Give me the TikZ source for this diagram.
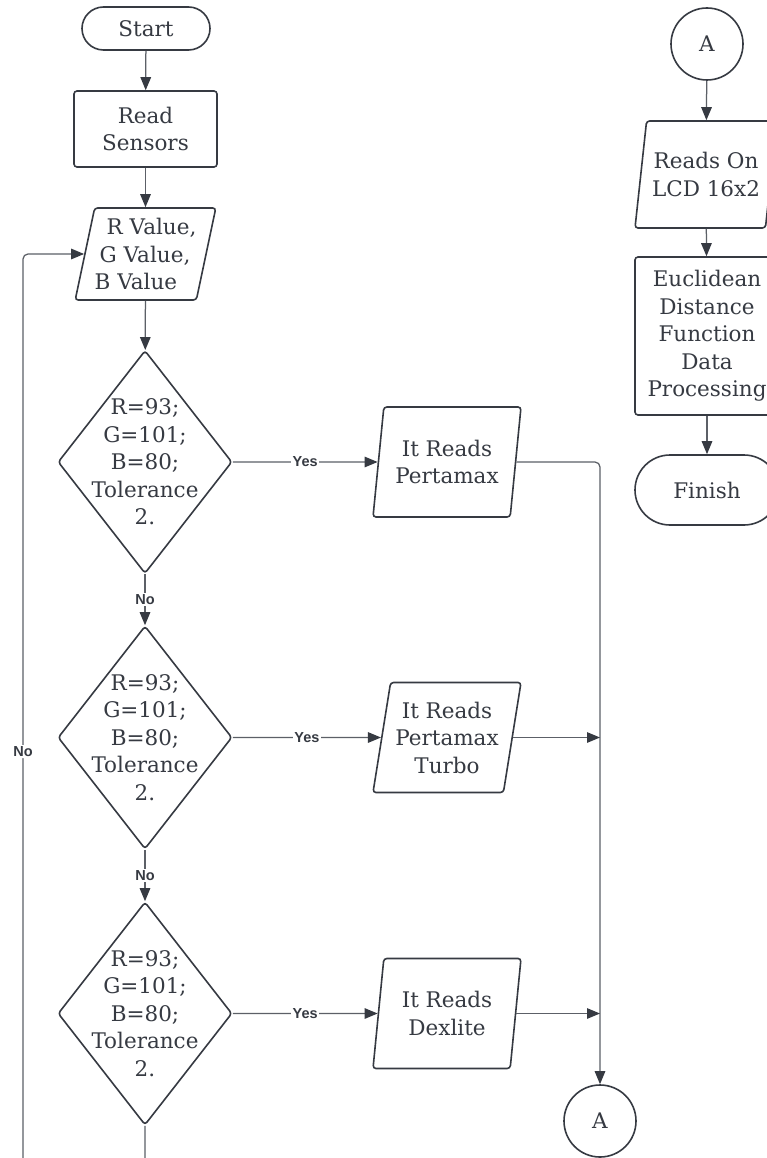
\documentclass[tikz,border=0pt]{standalone}
\usepackage{fontspec}
\setmainfont{DejaVu Serif}
\newfontfamily\labfont{Liberation Sans}
\usetikzlibrary{shapes.geometric,shapes.misc,arrows.meta}
\definecolor{ink}{HTML}{363A42}
\definecolor{wire}{HTML}{5C6067}
\begin{document}
\begin{tikzpicture}[x=1pt,y=-1pt,
  every node/.style={text=ink, font=\fontsize{21.5}{27.5}\selectfont},
  shapebox/.style={draw=ink, line width=1.6pt, fill=white},
  term/.style={shapebox, rounded rectangle, inner sep=0pt},
  proc/.style={shapebox, rectangle, rounded corners=3pt, inner sep=0pt, align=center},
  io/.style={shapebox, trapezium, trapezium stretches body, rounded corners=3pt, inner sep=0pt, align=center},
  par/.style={io, trapezium left angle=76.2, trapezium right angle=103.8, minimum width=148pt, minimum height=110pt},
  dec/.style={shapebox, diamond, rounded corners=3pt, inner sep=0pt, minimum width=174pt, minimum height=223pt},
  dtext/.style={align=center},
  connector/.style={shapebox, circle, minimum size=72pt, inner sep=0pt},
  conn/.style={draw=wire, line width=1.25pt, -{Triangle[length=13pt,width=10.5pt,color=ink]}},
  lab/.style={font=\labfont\bfseries\fontsize{14.5}{16}\selectfont, fill=white, inner sep=1.5pt, text=ink}
]
\useasboundingbox (0,0) rectangle (767,1158);
\fill[white] (0,0) rectangle (767,1158);
\clip (0,0) rectangle (767,1158);

% left column
\node[term, minimum width=128pt, minimum height=43pt] (start) at (146,28.5) {Start};
\node[proc, minimum width=143pt, minimum height=76pt] (rs) at (145.5,129) {Read\\Sensors};
\node[io, trapezium left angle=74.8, trapezium right angle=105.2, minimum width=129pt, minimum height=92pt, align=left] (rgb) at (145.5,254) {\hspace*{12pt}R Value,\\\hspace*{5pt}G Value,\\B Value};
\node[dec, label={[dtext]center:{R=93;\\G=101;\\B=80;\\Tolerance\\2.}}] (d1) at (145,462) {};
\node[dec, label={[dtext]center:{R=93;\\G=101;\\B=80;\\Tolerance\\2.}}] (d2) at (145,737.5) {};
\node[dec, label={[dtext]center:{R=93;\\G=101;\\B=80;\\Tolerance\\2.}}] (d3) at (145,1013.5) {};

% middle column
\node[par] (p1) at (447,462) {It Reads\\Pertamax};
\node[par] (p2) at (447,737.5) {It Reads\\Pertamax\\Turbo};
\node[par] (p3) at (447,1013.5) {It Reads\\Dexlite};
\node[connector] (a2) at (600,1121) {A};

% right column
\node[connector] (a1) at (707,44) {A};
\node[io, trapezium left angle=75.3, trapezium right angle=104.7, minimum width=142pt, minimum height=107pt] (lcd) at (706,174.5) {Reads On\\LCD 16x2};
\node[proc, minimum width=144pt, minimum height=158pt] (eu) at (707,336) {Euclidean\\Distance\\Function\\Data\\Processing};
\node[term, minimum width=144pt, minimum height=70pt] (fin) at (707,490) {Finish};

% connectors
\draw[conn] (start) -- (rs);
\draw[conn] (rs) -- (rgb);
\draw[conn] (rgb) -- (d1);
\draw[conn] (d1) -- node[lab]{No} (d2);
\draw[conn] (d2) -- node[lab]{No} (d3);
\draw[conn] (d1.east) -- node[lab]{Yes} (p1.west);
\draw[conn] (d2.east) -- node[lab]{Yes} (p2.west);
\draw[conn] (d3.east) -- node[lab]{Yes} (p3.west);
\draw[conn, rounded corners=5pt] (p1.east) -| (a2.north);
\draw[conn] (p2.east) -- (p2.east -| a2.north);
\draw[conn] (p3.east) -- (p3.east -| a2.north);
\coordinate (lp) at (23,1200);
\draw[conn, rounded corners=5pt] (d3.south) |- (lp) |- node[lab, pos=0.237]{No} (rgb.west);
\draw[conn] (a1) -- (lcd);
\draw[conn] (lcd) -- (eu);
\draw[conn] (eu) -- (fin);
\end{tikzpicture}
\end{document}
